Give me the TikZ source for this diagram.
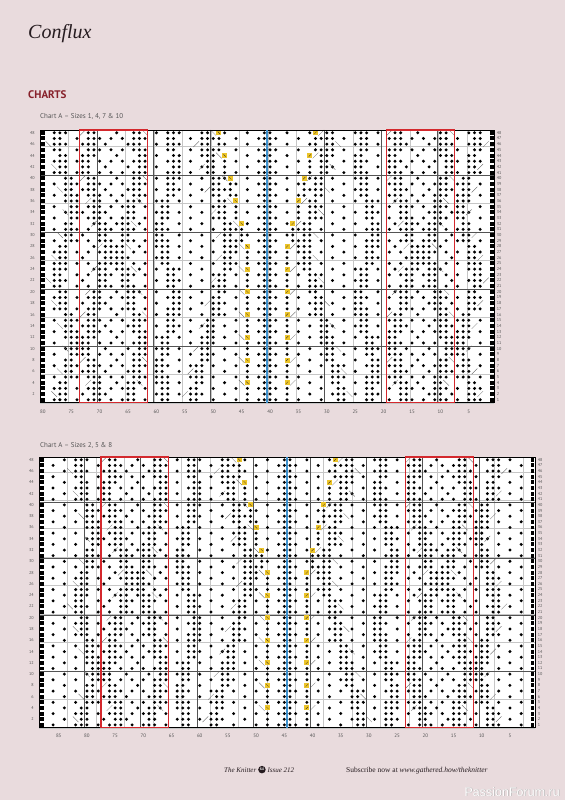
\documentclass[tikz,border=0pt]{standalone}
\usepackage{fontspec}
\setmainfont{Liberation Serif}
\setsansfont{PT Sans}
\newfontfamily\wmfont{Liberation Sans}
\usetikzlibrary{positioning}
\definecolor{pagebg}{RGB}{233,219,221}
\definecolor{inkdark}{RGB}{38,28,32}
\definecolor{headred}{RGB}{135,32,42}
\definecolor{labgray}{RGB}{85,85,85}
\definecolor{repred}{RGB}{212,40,45}
\definecolor{midblue}{RGB}{60,145,205}
\definecolor{markyellow}{RGB}{236,196,40}

% one stitch dot in cell (col,row)
\newcommand{\knDot}[2]{\fill (#1+0.5,#2-0.5) circle (0.29);}

% left half of a chart, #1 = width of the outer panel
\newcommand{\halfchart}[1]{%
  \pgfmathtruncatemacro\knKc{7+#1}%
  \pgfmathtruncatemacro\knBs{1+#1}%
  \pgfmathtruncatemacro\knBe{12+#1}%
  \pgfmathtruncatemacro\knE{13+#1}%
  \pgfmathtruncatemacro\knC{33+#1}%
  \pgfmathtruncatemacro\knCm{32+#1}%
  \foreach \r in {1,...,48}{%
    \fill (0.15,\r-0.85) rectangle (0.85,\r-0.15);
    \knDot{\knC}{\r}
    \pgfmathtruncatemacro\knBlk{int((\r-1)/4)}%
    \pgfmathtruncatemacro\knM{mod(\r,4)}%
    \pgfmathtruncatemacro\knW{abs(mod(\knBlk+6,8)-4)}%
    \pgfmathtruncatemacro\knBl{\knKc-\knW-2}%
    \pgfmathtruncatemacro\knBr{\knKc+\knW}%
    \pgfmathtruncatemacro\knP{#1-1-abs(mod(\knBlk+1,6)-3)}%
    \pgfmathtruncatemacro\knY{\knE+12+min(5,int((48-\r)/4))}%
    \pgfmathtruncatemacro\knQ{\r>27 ? \knY-3 : \knE+13-int((27-\r)/4)}%
    \pgfmathtruncatemacro\knR{\knE+1+abs(mod(\knBlk+2,6)-3)}%
    \foreach \k in {1,...,\knCm}{%
      \pgfmathtruncatemacro\knIs{(\k==\knP)||(\k==(\knP+1))||(\k==\knBl)||(\k==(\knBl+1))||(\k==\knBr)||(\k==(\knBr+1))||(\k==\knQ)||(\k==(\knQ+1))||(\k==\knR)||(\k==(\knR+1))}%
      \ifnum\knIs=1 \knDot{\k}{\r}\else
        \ifnum\k=\knY
          \ifnum\knM=0
            \fill[markyellow] (\k+0.06,\r-0.94) rectangle (\k+0.94,\r-0.06);
            \draw[inkdark, line width=0.25pt] (\k+0.3,\r-0.3) -- (\k+0.7,\r-0.7);
          \else \knDot{\k}{\r}\fi
        \else
          \pgfmathtruncatemacro\knIn{(\k>=\knBs)&&(\k<=\knBe)}%
          \ifnum\knIn=1
            \pgfmathtruncatemacro\knA{mod(\k-\knKc+\r+400,4)*mod(\k-\knKc-\r+400,4)}%
          \else
            \pgfmathtruncatemacro\knA{mod(\k+2*\r+400,4)}%
          \fi
          \ifnum\knA=0 \knDot{\k}{\r}\fi
        \fi
      \fi
    }
    \ifnum\knM=0
      \ifnum\knW<4
        \draw[slashline] (\knBl-1,\r-1) -- (\knBl,\r);
        \draw[slashline] (\knBr+2,\r) -- (\knBr+3,\r-1);
      \fi
      \draw[slashline] (\knY-1,\r) -- (\knY,\r-1);
    \fi
    \ifnum\knM=2
      \draw[slashline] (\knP-1,\r) -- (\knP,\r-1);
      \draw[slashline] (\knQ-1,\r-1) -- (\knQ,\r);
    \fi
  }}

\begin{document}
\begin{tikzpicture}[x=1pt, y=-1pt,
  gridline/.style={draw=gray!45, line width=0.2pt},
  majorline/.style={draw=gray!65!black, line width=0.35pt},
  frame/.style={draw=black, line width=0.6pt},
  repbox/.style={draw=repred, line width=1.1pt},
  midline/.style={draw=midblue, line width=2.4pt},
  slashline/.style={draw=gray!70!black, line width=0.25pt},
  rowno/.style={font=\sffamily\fontsize{4.2}{5}\selectfont, text=labgray, inner sep=0pt},
  colno/.style={font=\sffamily\fontsize{5}{6}\selectfont, text=labgray, inner sep=0pt},
  caption/.style={anchor=base west, font=\sffamily\fontsize{7}{8}\selectfont, text=labgray, inner sep=0pt}
]
\fill[pagebg] (0,0) rectangle (565,800);
\useasboundingbox (0,0) rectangle (565,800);

\node[anchor=base west, inner sep=0pt, text=inkdark, font=\itshape\fontsize{20}{24}\selectfont] (title) at (28,39) {Conflux};
\node[anchor=base west, inner sep=0pt, text=headred, font=\sffamily\bfseries\fontsize{11}{13}\selectfont] (charts) at (28,98) {CHARTS};
\node[caption] (capa) at (40,118.5) {Chart A – Sizes 1, 4, 7 \& 10};
\node[caption] (capb) at (40,447) {Chart A – Sizes 2, 5 \& 8};

% chart for sizes 1, 4, 7 & 10
\begin{scope}[shift={(40,402.6)}, x=5.68pt, y=5.68pt]
  \fill[white] (0,0) rectangle (80,48);
  \draw[gridline] (0,0) grid (80,48);
  \foreach \i in {10,20,30,40} \draw[majorline] (0,\i) -- (80,\i);
  \foreach \i in {10,20,...,70} \draw[majorline] (\i,0) -- (\i,48);
  \halfchart{6}
  \begin{scope}[shift={(80,0)}, xscale=-1]
    \halfchart{6}
  \end{scope}
  \draw[frame] (0,0) rectangle (80,48);
  \draw[repbox] (7,0) rectangle (19,48);
  \draw[repbox] (61,0) rectangle (73,48);
  \draw[midline] (40,0) -- (40,48);
  \foreach \r in {2,4,...,48} \node[rowno, anchor=east] (al\r) at (-0.9,\r-0.5) {\r};
  \foreach \r in {1,...,48} \node[rowno, anchor=west] (ar\r) at (80.4,\r-0.5) {\r};
  \foreach \c in {5,10,...,80} \node[colno] (ac\c) at (80.5-\c,-1.6) {\c};
\end{scope}

% chart for sizes 2, 5 & 8
\begin{scope}[shift={(39,727.7)}, x=5.64pt, y=5.64pt]
  \fill[white] (0,0) rectangle (88,48);
  \draw[gridline] (0,0) grid (88,48);
  \foreach \i in {10,20,30,40} \draw[majorline] (0,\i) -- (88,\i);
  \foreach \i in {8,18,...,78} \draw[majorline] (\i,0) -- (\i,48);
  \halfchart{10}
  \begin{scope}[shift={(88,0)}, xscale=-1]
    \halfchart{10}
  \end{scope}
  \draw[frame] (0,0) rectangle (88,48);
  \draw[repbox] (11,0) rectangle (23,48);
  \draw[repbox] (65,0) rectangle (77,48);
  \draw[midline] (44,0) -- (44,48);
  \foreach \r in {2,4,...,48} \node[rowno, anchor=east] (bl\r) at (-0.9,\r-0.5) {\r};
  \foreach \r in {1,...,48} \node[rowno, anchor=west] (br\r) at (88.4,\r-0.5) {\r};
  \foreach \c in {5,10,...,85} \node[colno] (bc\c) at (88.5-\c,-1.5) {\c};
\end{scope}

% footer
\node[anchor=base west, inner sep=0pt, text=inkdark, font=\itshape\fontsize{7}{8}\selectfont] (mag) at (224,772) {The Knitter};
\node[circle, fill=inkdark, text=white, inner sep=0pt, minimum size=7.5pt, font=\bfseries\fontsize{4}{4}\selectfont, right=1.5pt of mag] (pg) {64};
\node[anchor=base west, inner sep=0pt, text=inkdark, font=\itshape\fontsize{7}{8}\selectfont] (iss) at ([xshift=1.5pt]pg.east |- mag.base) {Issue 212};
\node[anchor=base west, inner sep=0pt, text=inkdark, font=\fontsize{7.5}{9}\selectfont] (sub) at (346,772) {Subscribe now at \textit{www.gathered.how/theknitter}};
\node[anchor=base east, inner sep=0pt, text=gray!70, font=\wmfont\fontsize{12.5}{14}\selectfont] (wmshade) at (560.5,796.5) {PassionForum.ru};
\node[anchor=base east, inner sep=0pt, text=white, font=\wmfont\fontsize{12.5}{14}\selectfont] (wm) at (560,796) {PassionForum.ru};
\end{tikzpicture}
\end{document}
